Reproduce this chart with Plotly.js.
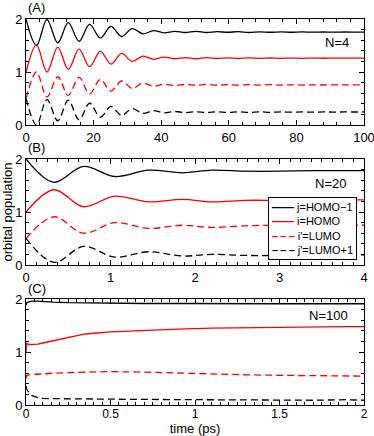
<!DOCTYPE html>
<html>
<head>
<meta charset="utf-8">
<script src="https://cdn.plot.ly/plotly-3.0.1.min.js"></script>
<style>
  body { margin: 0; background: #fff; }
  #plot { width: 374px; height: 436px; }
</style>
</head>
<body>
<div id="plot"></div>
<script>
// (A) N=4, time in units of 0..100
var tA = [0, 3.1, 6.2, 9.4, 12.5, 15.7, 18.8, 22.0, 25.1, 28.3, 31.4, 34.6, 37.7, 40.8, 44.0, 47.1, 50.3,
          53.4, 56.5, 59.7, 62.8, 66.0, 69.1, 72.3, 75.4, 78.5, 81.7, 84.8, 88.0, 91.1, 94.2, 97.4, 100];
var homo1A = [2.0, 1.50, 1.99, 1.55, 1.93, 1.58, 1.90, 1.64, 1.86, 1.67, 1.82, 1.72, 1.78, 1.74, 1.765, 1.745, 1.765,
              1.745, 1.76, 1.75, 1.76, 1.745, 1.758, 1.75, 1.757, 1.75, 1.756, 1.752, 1.755, 1.752, 1.755, 1.753, 1.754];
var homoA = [1.0, 1.51, 1.0, 1.47, 1.05, 1.43, 1.10, 1.39, 1.15, 1.35, 1.20, 1.30, 1.24, 1.28, 1.25, 1.27, 1.25,
             1.27, 1.255, 1.265, 1.255, 1.268, 1.256, 1.264, 1.257, 1.263, 1.258, 1.262, 1.259, 1.262, 1.26, 1.262, 1.262];
var lumoA = [0.5, 1.0, 0.53, 0.91, 0.56, 0.90, 0.59, 0.86, 0.64, 0.83, 0.69, 0.79, 0.73, 0.77, 0.745, 0.765, 0.75,
             0.765, 0.75, 0.762, 0.752, 0.763, 0.752, 0.76, 0.753, 0.758, 0.754, 0.758, 0.755, 0.758, 0.756, 0.757, 0.757];
var lumo1A = [0.5, 0.0, 0.48, 0.08, 0.47, 0.10, 0.41, 0.15, 0.35, 0.18, 0.31, 0.22, 0.27, 0.23, 0.255, 0.235, 0.25,
              0.235, 0.25, 0.238, 0.248, 0.236, 0.248, 0.24, 0.247, 0.242, 0.246, 0.243, 0.246, 0.244, 0.246, 0.245, 0.246];

// (B) N=20, time in ps
var tB = [0, 0.33, 0.68, 1.05, 1.45, 1.85, 2.2, 2.6, 3.0, 3.4, 3.8, 4.0];
var homo1B = [2.0, 1.56, 1.86, 1.67, 1.79, 1.74, 1.79, 1.77, 1.77, 1.78, 1.78, 1.78];
var homoB = [1.0, 1.42, 1.10, 1.30, 1.19, 1.24, 1.19, 1.22, 1.22, 1.23, 1.23, 1.23];
var lumoB = [0.5, 0.91, 0.60, 0.80, 0.69, 0.75, 0.71, 0.74, 0.75, 0.75, 0.75, 0.75];
var lumo1B = [0.5, 0.05, 0.35, 0.15, 0.25, 0.17, 0.20, 0.18, 0.18, 0.18, 0.19, 0.19];

// (C) N=100, time in ps
var tC = [0, 0.004, 0.02, 0.04, 0.07, 0.1, 0.16, 0.25, 0.35, 0.5, 0.7, 0.9, 1.1, 1.3, 1.5, 1.7, 1.9, 2.0];
var homo1C = [1.88, 1.93, 1.95, 1.96, 1.96, 1.95, 1.94, 1.93, 1.925, 1.92, 1.915, 1.915, 1.91, 1.91, 1.91, 1.91, 1.91, 1.91];
var homoC = [1.0, 1.16, 1.14, 1.14, 1.15, 1.17, 1.21, 1.28, 1.34, 1.38, 1.41, 1.43, 1.45, 1.46, 1.47, 1.47, 1.48, 1.48];
var lumoC = [0.5, 0.56, 0.57, 0.58, 0.58, 0.59, 0.6, 0.61, 0.62, 0.63, 0.62, 0.6, 0.58, 0.57, 0.56, 0.555, 0.54, 0.545];
var lumo1C = [0.36, 0.3, 0.22, 0.17, 0.14, 0.125, 0.12, 0.115, 0.11, 0.11, 0.105, 0.1, 0.1, 0.1, 0.095, 0.09, 0.1, 0.09];

var dashed = "7px,4px";

function curve(x, y, color, dash, xa, ya, shape) {
    return {
        x: x, y: y, type: "scatter", mode: "lines", xaxis: xa, yaxis: ya,
        showlegend: false, hoverinfo: "skip",
        line: { color: color, width: 1.3, dash: dash, shape: shape, smoothing: 1 }
    };
}

var data = [
    curve(tA, homo1A, "#000", "solid", "x", "y", "spline"),
    curve(tA, homoA, "#ff0000", "solid", "x", "y", "spline"),
    curve(tA, lumoA, "#ff0000", dashed, "x", "y", "spline"),
    curve(tA, lumo1A, "#000", dashed, "x", "y", "spline"),
    curve(tB, homo1B, "#000", "solid", "x2", "y2", "spline"),
    curve(tB, homoB, "#ff0000", "solid", "x2", "y2", "spline"),
    curve(tB, lumoB, "#ff0000", dashed, "x2", "y2", "spline"),
    curve(tB, lumo1B, "#000", dashed, "x2", "y2", "spline"),
    curve(tC, homo1C, "#000", "solid", "x3", "y3", "linear"),
    curve(tC, homoC, "#ff0000", "solid", "x3", "y3", "linear"),
    curve(tC, lumoC, "#ff0000", dashed, "x3", "y3", "linear"),
    curve(tC, lumo1C, "#000", dashed, "x3", "y3", "linear")
];

function axis(opts) {
    var a = {
        showline: true, linecolor: "#000", linewidth: 1, mirror: "ticks",
        ticks: "inside", ticklen: 5, tickwidth: 1, tickcolor: "#000",
        showgrid: false, zeroline: false, ticklabeloverflow: "allow",
        tickfont: { size: 13 },
        minor: { ticks: "inside", ticklen: 3, tickwidth: 1, tickcolor: "#000", dtick: opts.minor }
    };
    for (var k in opts) if (k != "minor") a[k] = opts[k];
    return a;
}

var legendText =
    "<span style='color:#000'><b>——</b></span> j=HOMO−1<br>" +
    "<span style='color:#ff0000'><b>——</b></span> i=HOMO<br>" +
    "<span style='color:#ff0000'><b>–\u2009–\u2009–</b></span> i'=LUMO<br>" +
    "<span style='color:#000'><b>–\u2009–\u2009–</b></span> j'=LUMO+1";

function note(text, x, y, xanchor, size) {
    return { text: text, xref: "paper", yref: "paper", x: x, y: y, xanchor: xanchor, yanchor: "middle",
             showarrow: false, font: { size: size } };
}

var layout = {
    width: 374, height: 436,
    margin: { l: 26, r: 10, t: 19, b: 31 },
    paper_bgcolor: "#fff", plot_bgcolor: "#fff",
    font: { family: "Liberation Sans, Arial, sans-serif", size: 13, color: "#000" },
    showlegend: false,
    xaxis: axis({ domain: [0, 1], range: [0, 100], dtick: 20, minor: 4, anchor: "y" }),
    yaxis: axis({ domain: [0.7254, 1], range: [0, 2], dtick: 1, minor: 0.2, anchor: "x" }),
    xaxis2: axis({ domain: [0, 1], range: [0, 4], dtick: 1, minor: 0.125, anchor: "y2" }),
    yaxis2: axis({ domain: [0.3627, 0.6373], range: [0, 2], dtick: 1, minor: 0.2, anchor: "x2",
                   title: { text: "orbital population", font: { size: 13 }, standoff: 4 } }),
    xaxis3: axis({ domain: [0, 1], range: [0, 2], dtick: 0.5, minor: 0.05, anchor: "y3",
                   ticklabelstandoff: -2, tickfont: { size: 12 },
                   title: { text: "time (ps)", font: { size: 13 } } }),
    yaxis3: axis({ domain: [0, 0.2746], range: [0, 2], dtick: 1, minor: 0.2, anchor: "x3" }),
    annotations: [
        note("(A)", 0, 1.031, "left", 13),
        note("(B)", 0, 0.668, "left", 13),
        note("(C)", 0, 0.303, "left", 13),
        note("N=4", 0.9615, 0.938, "right", 13),
        note("N=20", 0.953, 0.575, "right", 13),
        note("N=100", 0.9586, 0.2306, "right", 13),
        {
            text: legendText, xref: "paper", yref: "paper", x: 0.716, y: 0.539,
            xanchor: "left", yanchor: "top", align: "left", showarrow: false,
            font: { size: 11 }, bgcolor: "#fff", bordercolor: "#000", borderwidth: 1, borderpad: 3
        }
    ]
};

Plotly.newPlot("plot", data, layout, { displayModeBar: false, staticPlot: true });
</script>
</body>
</html>
